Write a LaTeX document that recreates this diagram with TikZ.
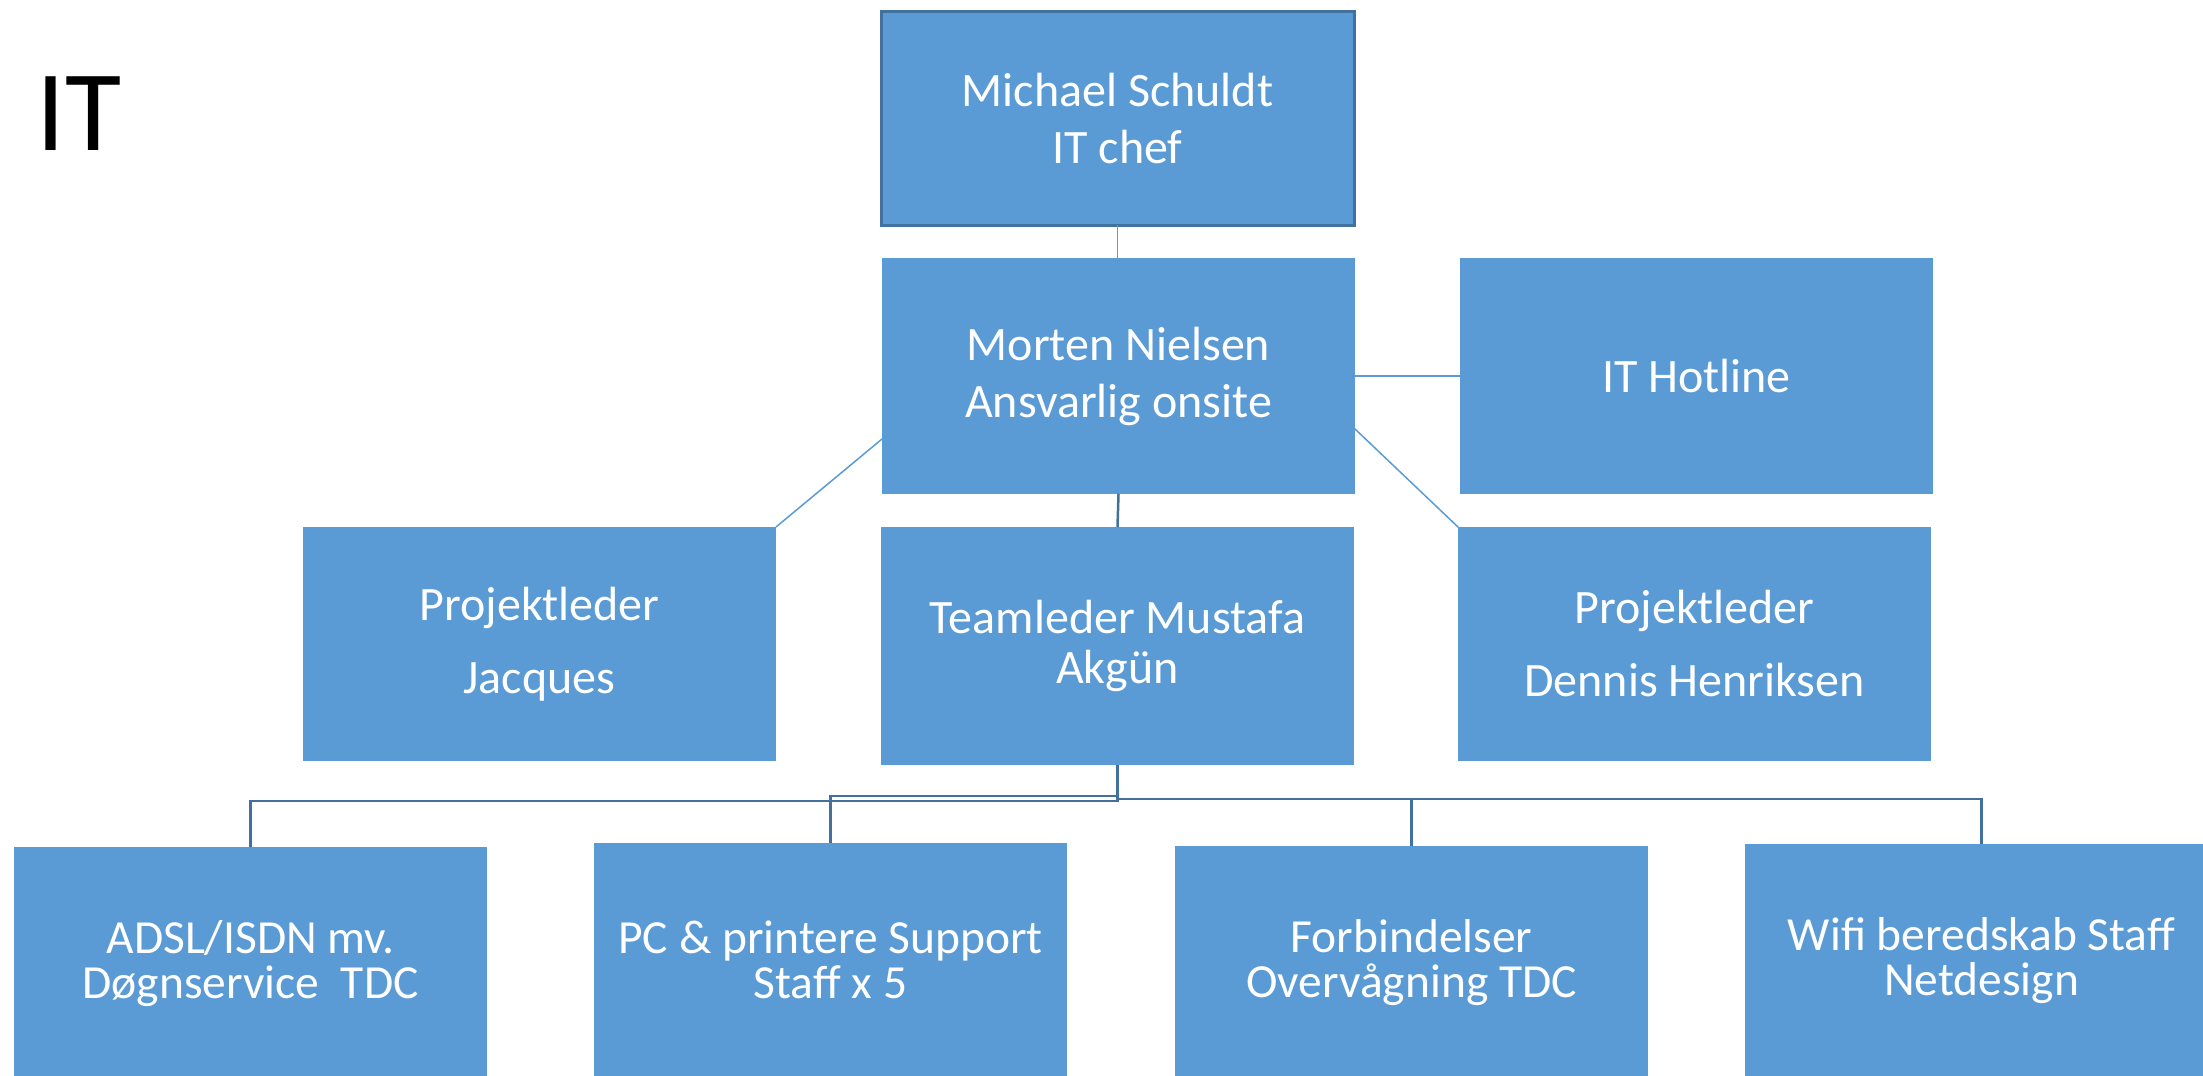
\documentclass[tikz,border=0pt]{standalone}
\usepackage{fontspec}
\setmainfont{Carlito}
\definecolor{boxblue}{HTML}{5B9BD5}
\definecolor{darkblue}{HTML}{41719C}
\begin{document}
\begin{tikzpicture}[x=1pt,y=-1pt,
  orgbox/.style={anchor=north west, fill=boxblue, draw=none, text=white, align=center,
    inner sep=0pt, outer sep=0pt, minimum width=473pt, minimum height=236pt,
    font=\fontsize{48}{57}\selectfont},
  lowbox/.style={orgbox, minimum height=234pt, font=\fontsize{47.5}{45}\selectfont},
  light/.style={draw=boxblue, line width=1.5pt},
  dark/.style={draw=darkblue, line width=2.5pt}]
\useasboundingbox (0,0) rectangle (2203,1076);
\fill[white] (0,0) rectangle (2203,1076);
\node[anchor=base west, font=\fontsize{115}{120}\selectfont, inner sep=0pt] (title) at (36,150) {IT};
\node[orgbox, minimum height=214pt, draw=darkblue, line width=3pt] (mich) at (881,11) {Michael Schuldt\\IT chef};
\node[orgbox] (mort) at (882,258) {Morten Nielsen\\Ansvarlig onsite};
\node[orgbox] (hot) at (1460,258) {IT Hotline};
\node[orgbox, minimum height=234pt, font=\fontsize{48}{73}\selectfont] (jac) at (303,527) {Projektleder\\Jacques};
\node[orgbox, minimum height=238pt, font=\fontsize{48}{50}\selectfont] (team) at (881,527) {Teamleder Mustafa\\Akgün};
\node[orgbox, minimum height=234pt, font=\fontsize{48}{73}\selectfont] (den) at (1458,527) {Projektleder\\Dennis Henriksen};
\node[lowbox] (adsl) at (14,847) {ADSL/ISDN mv.\\Døgnservice\ \ TDC};
\node[lowbox] (pc) at (594,843) {PC \& printere Support\\Staff x 5};
\node[lowbox] (forb) at (1175,846) {Forbindelser\\Overvågning TDC};
\node[lowbox] (wifi) at (1745,844) {Wifi beredskab Staff\\Netdesign};
% upper connectors
\draw[light] (mich.south) -- (mich.south |- mort.north);
\draw[light] (mort.east) -- (hot.west);
\draw[light] ([yshift=55pt]mort.south west) -- (jac.north east);
\draw[light] ([yshift=65pt]mort.south east) -- (den.north west);
\draw[dark] (mort.south) -- (team.north);
% bus
\draw[dark] (team.south) -- ++(0,34) coordinate (bus);
\draw[dark] (bus) -- ++(0,2) -| (adsl.north);
\draw[dark] (bus) -- ++(0,-3) -| (pc.north);
\draw[dark] (bus) -| (forb.north);
\draw[dark] (bus) -| (wifi.north);
\end{tikzpicture}
\end{document}
